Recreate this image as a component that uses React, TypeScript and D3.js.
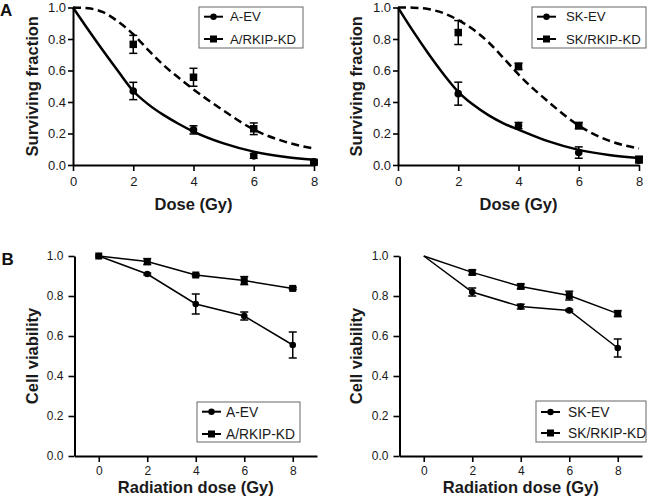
import React, { useEffect, useRef } from "react";
import * as d3 from "d3";

// ---------- DATA ----------
const doseA = [2, 4, 6, 8];
const aEvSF = [0.47, 0.223, 0.058, 0.02];
const aEvSFErr = [0.055, 0.026, 0.015, 0.01];
const aKdSF = [0.766, 0.557, 0.23, 0.017];
const aKdSFErr = [0.057, 0.057, 0.037, 0.01];
const skEvSF = [0.453, 0.25, 0.079, 0.03];
const skEvSFErr = [0.073, 0.02, 0.036, 0.015];
const skKdSF = [0.841, 0.626, 0.25, 0.035];
const skKdSFErr = [0.076, 0.02, 0.02, 0.02];

// fitted survival curves
const fitDose = [0, 0.5, 1, 1.5, 2, 2.5, 3, 3.5, 4, 5, 6, 7, 8];
const aEvFit = [1, 0.86, 0.725, 0.595, 0.47, 0.385, 0.318, 0.262, 0.212, 0.137, 0.085, 0.053, 0.033];
const aKdFit = [1, 0.995, 0.97, 0.91, 0.83, 0.73, 0.635, 0.555, 0.48, 0.345, 0.225, 0.15, 0.104];
const skEvFit = [1, 0.85, 0.71, 0.58, 0.465, 0.382, 0.317, 0.265, 0.225, 0.15, 0.096, 0.064, 0.045];
const skKdFit = [1, 0.999, 0.99, 0.965, 0.92, 0.86, 0.78, 0.68, 0.575, 0.4, 0.25, 0.155, 0.105];

const doseB = [0, 2, 4, 6, 8];
const aEvViab = [1, 0.91, 0.76, 0.7, 0.555];
const aEvViabErr = [0, 0.005, 0.05, 0.02, 0.065];
const aKdViab = [1, 0.972, 0.905, 0.877, 0.838];
const aKdViabErr = [0, 0.015, 0.005, 0.02, 0.005];
const skEvViab = [1, 0.82, 0.747, 0.728, 0.54];
const skEvViabErr = [0, 0.02, 0.012, 0.005, 0.045];
const skKdViab = [1, 0.918, 0.848, 0.802, 0.712];
const skKdViabErr = [0, 0.012, 0.012, 0.022, 0.015];

const yTicks = [0, 0.2, 0.4, 0.6, 0.8, 1.0];
const xTicks = [0, 2, 4, 6, 8];

const FONT = "'Liberation Sans', Arial, Helvetica, sans-serif";

type Series = {
  name: string;
  marker: "circle" | "square";
  x: number[];
  y: number[];
  err: number[];
  lineX: number[];
  lineY: number[];
  dashed: boolean;
  markerFrom: number;
};

type PanelCfg = {
  xDomain: [number, number];
  xRange: [number, number];
  yRange: [number, number];
  series: Series[];
  curve: any;
  lineWidth: number;
  xTitle: string;
  yTitle: string;
  xTitleY: number;
  yTitleX: number;
  tickFont: number;
  xTickSize: number;
  xTickPad: number;
  yTickSize: number;
  yTickPad: number;
  legend: { x: number; y: number; w: number; h: number; rows: number[]; font: number; textDx: number };
  markerR: number;
  sq: number;
};

function drawPanel(g: d3.Selection<SVGGElement, unknown, null, undefined>, c: PanelCfg) {
  const x = d3.scaleLinear().domain(c.xDomain).range(c.xRange);
  const y = d3.scaleLinear().domain([0, 1]).range(c.yRange);

  const xAxis = d3
    .axisBottom(x)
    .tickValues(xTicks)
    .tickFormat(d3.format("d") as any)
    .tickSize(c.xTickSize)
    .tickSizeOuter(0)
    .tickPadding(c.xTickPad);
  const yAxis = d3
    .axisLeft(y)
    .tickValues(yTicks)
    .tickFormat(d3.format(".1f") as any)
    .tickSize(c.yTickSize)
    .tickSizeOuter(0)
    .tickPadding(c.yTickPad);

  const gx = g.append("g").attr("transform", `translate(0,${c.yRange[0]})`).call(xAxis);
  const gy = g.append("g").attr("transform", `translate(${c.xRange[0]},0)`).call(yAxis);
  [gx, gy].forEach((a) => {
    a.select(".domain").attr("stroke", "#000").attr("stroke-width", 2);
    a.selectAll(".tick line").attr("stroke", "#000").attr("stroke-width", 1.6);
    a.selectAll(".tick text")
      .attr("fill", "#1a1a1a")
      .attr("font-family", FONT)
      .attr("font-size", c.tickFont);
  });

  const line = d3
    .line<[number, number]>()
    .x((d) => x(d[0]))
    .y((d) => y(d[1]))
    .curve(c.curve);
  c.series.forEach((s) => {
    const pts: [number, number][] = s.lineX.map((v, i) => [v, s.lineY[i]]);
    g.append("path")
      .attr("d", line(pts) as string)
      .attr("fill", "none")
      .attr("stroke", "#000")
      .attr("stroke-width", c.lineWidth)
      .attr("stroke-dasharray", s.dashed ? "8,4.5" : null);
  });

  c.series.forEach((s) => {
    s.x.forEach((xv, i) => {
      const e = s.err[i];
      const cx = x(xv);
      if (e > 0.004) {
        const y1 = y(s.y[i] + e);
        const y2 = y(s.y[i] - e);
        g.append("line").attr("x1", cx).attr("x2", cx).attr("y1", y1).attr("y2", y2).attr("stroke", "#000").attr("stroke-width", 1.5);
        [y1, y2].forEach((yy) =>
          g.append("line").attr("x1", cx - 4).attr("x2", cx + 4).attr("y1", yy).attr("y2", yy).attr("stroke", "#000").attr("stroke-width", 1.5)
        );
      }
    });
    s.x.forEach((xv, i) => {
      if (xv < s.markerFrom) return;
      const cx = x(xv);
      const cy = y(s.y[i]);
      if (s.marker === "circle") {
        g.append("circle").attr("cx", cx).attr("cy", cy).attr("r", c.markerR).attr("fill", "#000");
      } else {
        g.append("rect").attr("x", cx - c.sq / 2).attr("y", cy - c.sq / 2).attr("width", c.sq).attr("height", c.sq).attr("fill", "#000");
      }
    });
  });

  g.append("text")
    .attr("x", (c.xRange[0] + c.xRange[1]) / 2)
    .attr("y", c.xTitleY)
    .attr("text-anchor", "middle")
    .attr("font-family", FONT)
    .attr("font-weight", "bold")
    .attr("font-size", 16.5)
    .attr("fill", "#1a1a1a")
    .text(c.xTitle);
  g.append("text")
    .attr("transform", `translate(${c.yTitleX},${(c.yRange[0] + c.yRange[1]) / 2}) rotate(-90)`)
    .attr("text-anchor", "middle")
    .attr("font-family", FONT)
    .attr("font-weight", "bold")
    .attr("font-size", 16.5)
    .attr("fill", "#1a1a1a")
    .text(c.yTitle);

  const L = c.legend;
  g.append("rect")
    .attr("x", L.x)
    .attr("y", L.y)
    .attr("width", L.w)
    .attr("height", L.h)
    .attr("fill", "#fff")
    .attr("stroke", "#666")
    .attr("stroke-width", 1);
  c.series.forEach((s, i) => {
    const ry = L.rows[i];
    g.append("line").attr("x1", L.x + 5).attr("x2", L.x + 24).attr("y1", ry).attr("y2", ry).attr("stroke", "#000").attr("stroke-width", 2);
    if (s.marker === "circle") {
      g.append("circle").attr("cx", L.x + 14.5).attr("cy", ry).attr("r", 3.2).attr("fill", "#000");
    } else {
      g.append("rect").attr("x", L.x + 14.5 - 3.5).attr("y", ry - 3.5).attr("width", 7).attr("height", 7).attr("fill", "#000");
    }
    g.append("text")
      .attr("x", L.x + L.textDx)
      .attr("y", ry)
      .attr("dy", "0.36em")
      .attr("font-family", FONT)
      .attr("font-size", L.font)
      .attr("fill", "#1a1a1a")
      .text(s.name);
  });
}

export default function App() {
  const ref = useRef<SVGSVGElement>(null);
  useEffect(() => {
    const svg = d3.select(ref.current as SVGSVGElement);
    svg.selectAll("*").remove();

    const panelA = (left: boolean): PanelCfg => ({
      xDomain: [0, 8],
      xRange: left ? [73, 314] : [398, 639],
      yRange: [165, 7.5],
      curve: d3.curveMonotoneX,
      lineWidth: 2.5,
      xTitle: "Dose (Gy)",
      yTitle: "Surviving fraction",
      xTitleY: 210,
      yTitleX: left ? 37.5 : 362,
      tickFont: 13,
      xTickSize: 6,
      xTickPad: 6,
      yTickSize: 5,
      yTickPad: 2,
      markerR: 3.8,
      sq: 7.5,
      legend: left
        ? { x: 199, y: 7, w: 104, h: 41, rows: [16.7, 39], font: 13.2, textDx: 31 }
        : { x: 532, y: 7, w: 114, h: 41, rows: [16.7, 39], font: 13.2, textDx: 34 },
      series: left
        ? [
            { name: "A-EV", marker: "circle", x: doseA, y: aEvSF, err: aEvSFErr, lineX: fitDose, lineY: aEvFit, dashed: false, markerFrom: 0 },
            { name: "A/RKIP-KD", marker: "square", x: doseA, y: aKdSF, err: aKdSFErr, lineX: fitDose, lineY: aKdFit, dashed: true, markerFrom: 0 },
          ]
        : [
            { name: "SK-EV", marker: "circle", x: doseA, y: skEvSF, err: skEvSFErr, lineX: fitDose, lineY: skEvFit, dashed: false, markerFrom: 0 },
            { name: "SK/RKIP-KD", marker: "square", x: doseA, y: skKdSF, err: skKdSFErr, lineX: fitDose, lineY: skKdFit, dashed: true, markerFrom: 0 },
          ],
    });

    const panelB = (left: boolean): PanelCfg => ({
      xDomain: [-1, 9],
      xRange: left ? [74.5, 317] : [399.5, 642],
      yRange: [456, 256],
      curve: d3.curveLinear,
      lineWidth: 1.5,
      xTitle: "Radiation dose (Gy)",
      yTitle: "Cell viability",
      xTitleY: 492.5,
      yTitleX: left ? 37.5 : 362,
      tickFont: 12,
      xTickSize: 6,
      xTickPad: 4,
      yTickSize: 6,
      yTickPad: 5,
      markerR: 3.3,
      sq: 7,
      legend: left
        ? { x: 197, y: 402, w: 103, h: 40, rows: [411.7, 434], font: 13.8, textDx: 29 }
        : { x: 536, y: 401, w: 110, h: 41, rows: [412, 433], font: 13.8, textDx: 32 },
      series: left
        ? [
            { name: "A-EV", marker: "circle", x: doseB, y: aEvViab, err: aEvViabErr, lineX: doseB, lineY: aEvViab, dashed: false, markerFrom: 0 },
            { name: "A/RKIP-KD", marker: "square", x: doseB, y: aKdViab, err: aKdViabErr, lineX: doseB, lineY: aKdViab, dashed: false, markerFrom: 0 },
          ]
        : [
            { name: "SK-EV", marker: "circle", x: doseB, y: skEvViab, err: skEvViabErr, lineX: doseB, lineY: skEvViab, dashed: false, markerFrom: 1 },
            { name: "SK/RKIP-KD", marker: "square", x: doseB, y: skKdViab, err: skKdViabErr, lineX: doseB, lineY: skKdViab, dashed: false, markerFrom: 1 },
          ],
    });

    [panelA(true), panelA(false), panelB(true), panelB(false)].forEach((cfg) => {
      const g = svg.append("g");
      drawPanel(g as any, cfg);
    });

    const labels: [string, number, number][] = [
      ["A", 0, 15.5],
      ["B", 1.5, 265],
    ];
    labels.forEach(([t, lx, ly]) =>
      svg
        .append("text")
        .attr("x", lx)
        .attr("y", ly)
        .attr("font-family", FONT)
        .attr("font-weight", "bold")
        .attr("font-size", 17)
        .attr("fill", "#111")
        .text(t)
    );
  }, []);

  return (
    <svg
      ref={ref}
      width={648}
      height={500}
      style={{ position: "absolute", left: 0, top: 0, background: "#fff" }}
    />
  );
}
